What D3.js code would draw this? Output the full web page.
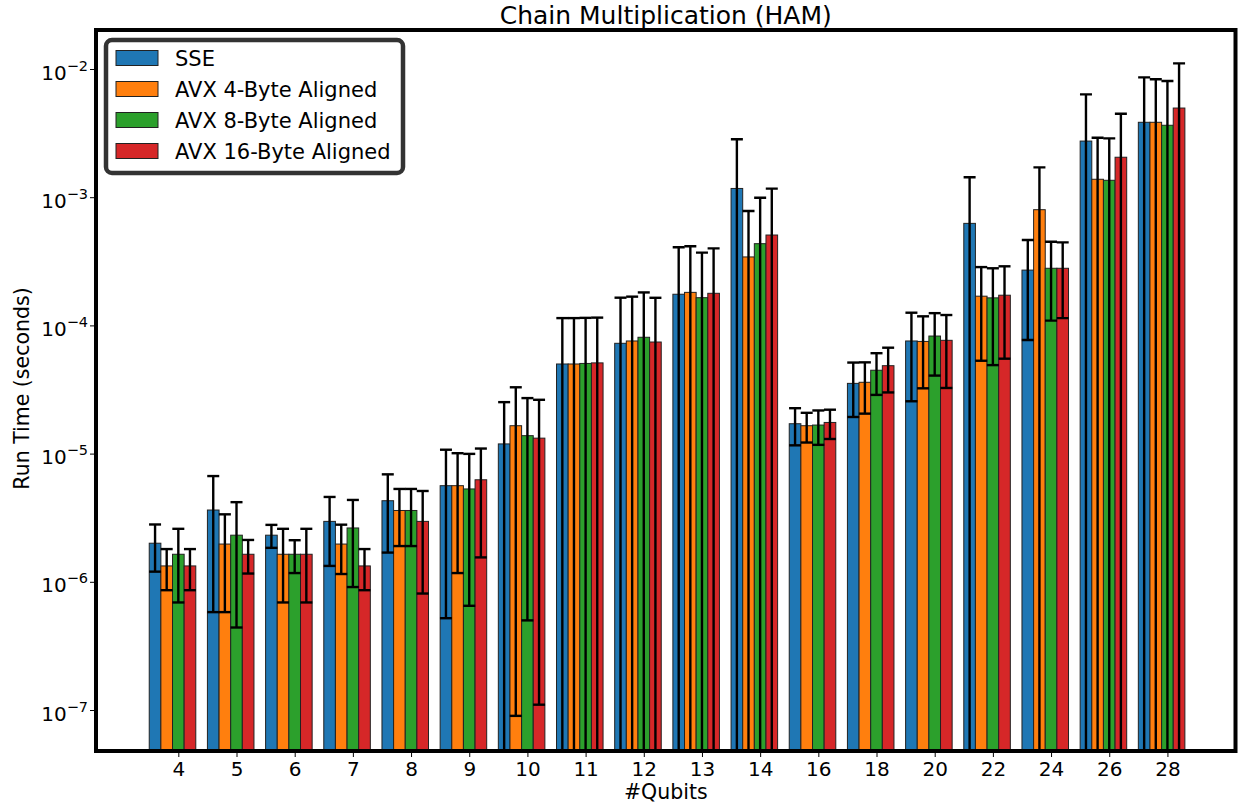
<!DOCTYPE html>
<html>
<head>
<meta charset="utf-8">
<script src="https://cdn.jsdelivr.net/npm/d3@7"></script>
<style>
body{margin:0;background:#fff}
text{font-family:"DejaVu Sans",sans-serif;fill:#000}
</style>
</head>
<body>
<div id="chart"></div>
<script>
// categories
let qubits=["4","5","6","7","8","9","10","11","12","13","14","16","18","20","22","24","26","28"]

// mean run time (seconds) and std per series
let sseMean=[2.0e-6,3.63e-6,2.31e-6,2.96e-6,4.29e-6,5.62e-6,1.19e-5,5.0e-5,7.25e-5,1.75e-4,1.17e-3,1.71e-5,3.53e-5,7.56e-5,6.25e-4,2.70e-4,2.74e-3,3.84e-3]
let sseStd=[0.8e-6,3.05e-6,0.47e-6,1.63e-6,2.6e-6,5.1e-6,1.33e-5,6.4e-5,9.2e-5,2.32e-4,1.66e-3,5.5e-6,1.6e-5,5.0e-5,8.05e-4,1.93e-4,3.6e-3,4.77e-3]
let avx4Mean=[1.33e-6,1.97e-6,1.64e-6,1.97e-6,3.6e-6,5.62e-6,1.65e-5,5.0e-5,7.56e-5,1.81e-4,3.42e-4,1.65e-5,3.6e-5,7.5e-5,1.69e-4,7.99e-4,1.38e-3,3.84e-3]
let avx4Std=[0.47e-6,1.39e-6,0.95e-6,0.82e-6,1.7e-6,4.45e-6,1.641e-5,6.4e-5,9.2e-5,2.33e-4,4.38e-4,4.3e-6,1.55e-5,4.27e-5,1.16e-4,9.1e-4,1.53e-3,4.47e-3]
let avx8Mean=[1.64e-6,2.31e-6,1.64e-6,2.63e-6,3.6e-6,5.3e-6,1.38e-5,5.05e-5,8.08e-5,1.645e-4,4.34e-4,1.67e-5,4.47e-5,8.26e-5,1.64e-4,2.79e-4,1.355e-3,3.64e-3]
let avx8Std=[0.95e-6,1.87e-6,0.47e-6,1.72e-6,1.7e-6,4.65e-6,1.33e-5,6.4e-5,1.0e-4,2.05e-4,5.56e-4,5.0e-6,1.6e-5,4.2e-5,1.15e-4,1.7e-4,1.52e-3,4.42e-3]
let avx16Mean=[1.33e-6,1.64e-6,1.64e-6,1.33e-6,2.96e-6,6.25e-6,1.32e-5,5.1e-5,7.42e-5,1.78e-4,5.07e-4,1.75e-5,4.85e-5,7.65e-5,1.72e-4,2.79e-4,2.05e-3,4.96e-3]
let avx16Std=[0.47e-6,0.48e-6,0.95e-6,0.47e-6,2.15e-6,4.7e-6,1.309e-5,6.4e-5,9.0e-5,2.21e-4,6.6e-4,4.5e-6,1.85e-5,4.4e-5,1.17e-4,1.65e-4,2.43e-3,6.1e-3]

let seriesNames=["SSE","AVX 4-Byte Aligned","AVX 8-Byte Aligned","AVX 16-Byte Aligned"]
let colors=["#1f77b4","#ff7f0e","#2ca02c","#d62728"]
let yTicks=[1e-7,1e-6,1e-5,1e-4,1e-3,1e-2]

let series=[
    {name:seriesNames[0],mean:sseMean,std:sseStd},
    {name:seriesNames[1],mean:avx4Mean,std:avx4Std},
    {name:seriesNames[2],mean:avx8Mean,std:avx8Std},
    {name:seriesNames[3],mean:avx16Mean,std:avx16Std}
]

let svgWidth=1238
let svgHeight=805
let plot={left:96,right:1235.5,top:30,bottom:751}
let barW=0.2

let svg=d3.select("#chart")
.append("svg")
.attr("width",svgWidth)
.attr("height",svgHeight)

//Scales
let xScale=d3.scaleLinear()
.domain([-1.415,18.17])
.range([plot.left,plot.right])
let yScale=d3.scaleLog()
.domain([1e-7,1e-2])
.range([710,69])

svg.append("clipPath").attr("id","clip")
.append("rect")
.attr("x",plot.left).attr("y",plot.top)
.attr("width",plot.right-plot.left).attr("height",plot.bottom-plot.top)

let plotGroup=svg.append("g").attr("clip-path","url(#clip)")

//Bars
series.forEach(function(s,k){
    plotGroup.append("g").selectAll("rect")
    .data(qubits)
    .enter()
    .append("rect")
    .attr("x",(d,i)=>xScale(i+(k-2.5)*barW))
    .attr("width",xScale(barW)-xScale(0))
    .attr("y",(d,i)=>yScale(s.mean[i]))
    .attr("height",(d,i)=>plot.bottom+5-yScale(s.mean[i]))
    .attr("fill",colors[k])
    .attr("stroke","#222")
    .attr("stroke-width",1)
})

//Error bars
let capHalf=6
let errW=2.4
series.forEach(function(s,k){
    let g=plotGroup.append("g")
    qubits.forEach(function(q,i){
        let cx=xScale(i+(k-2)*barW)
        let hi=s.mean[i]+s.std[i]
        let lo=s.mean[i]-s.std[i]
        let yHi=yScale(hi)
        let yLo=lo>0?yScale(lo):plot.bottom+5
        g.append("line")
        .attr("x1",cx).attr("x2",cx)
        .attr("y1",yHi).attr("y2",yLo)
        .attr("stroke","#000").attr("stroke-width",errW)
        g.append("line")
        .attr("x1",cx-capHalf).attr("x2",cx+capHalf)
        .attr("y1",yHi).attr("y2",yHi)
        .attr("stroke","#000").attr("stroke-width",errW)
        if(lo>0){
            g.append("line")
            .attr("x1",cx-capHalf).attr("x2",cx+capHalf)
            .attr("y1",yLo).attr("y2",yLo)
            .attr("stroke","#000").attr("stroke-width",errW)
        }
    })
})

//Axes
let leftAxis=d3.axisLeft(yScale)
.tickValues(yTicks)
.tickSize(6)
.tickPadding(6)
.tickFormat("")
let yAxisG=svg.append("g")
.attr("transform",`translate(${plot.left},0)`)
.call(leftAxis)
yAxisG.select(".domain").remove()
yAxisG.selectAll(".tick line").attr("stroke","#000").attr("stroke-width",1)
yAxisG.selectAll(".tick").each(function(d){
    let t=d3.select(this).append("text")
    .attr("x",-8)
    .attr("y",10)
    .attr("text-anchor","end")
    .style("font-size","20px")
    .style("font-family","DejaVu Sans")
    t.append("tspan").text("10")
    t.append("tspan")
    .attr("dy",-9)
    .style("font-size","14.5px")
    .text("\u2212"+Math.round(-Math.log10(d)))
})

let bottomAxis=d3.axisBottom(xScale)
.tickValues(d3.range(qubits.length))
.tickSize(6)
.tickPadding(5)
.tickFormat(i=>qubits[i])
let xAxisG=svg.append("g")
.attr("transform",`translate(0,${plot.bottom})`)
.call(bottomAxis)
xAxisG.select(".domain").remove()
xAxisG.selectAll(".tick line").attr("stroke","#000").attr("stroke-width",1)
xAxisG.selectAll(".tick text")
.attr("fill","#000")
.style("font-size","20px")
.style("font-family","DejaVu Sans")

//Spines
svg.append("rect")
.attr("x",plot.left).attr("y",plot.top)
.attr("width",plot.right-plot.left).attr("height",plot.bottom-plot.top)
.attr("fill","none")
.attr("stroke","#000")
.attr("stroke-width",4)

//Title and axis labels
svg.append("text")
.attr("x",(plot.left+plot.right)/2)
.attr("y",24)
.attr("text-anchor","middle")
.style("font-size","25px")
.text("Chain Multiplication (HAM)")
svg.append("text")
.attr("transform",`translate(29,${(plot.top+plot.bottom)/2-2}) rotate(-90)`)
.attr("text-anchor","middle")
.style("font-size","20.5px")
.text("Run Time (seconds)")
svg.append("text")
.attr("x",(plot.left+plot.right)/2)
.attr("y",799)
.attr("text-anchor","middle")
.style("font-size","20.5px")
.text("#Qubits")

//Legend
let legend=svg.append("g")
legend.append("rect")
.attr("x",106).attr("y",40)
.attr("width",297).attr("height",133)
.attr("rx",6)
.attr("fill","#fff")
.attr("stroke","#333")
.attr("stroke-width",4.5)
seriesNames.forEach(function(name,k){
    let row=legend.append("g").attr("transform",`translate(116,${58+k*31})`)
    row.append("rect")
    .attr("x",0).attr("y",-7.5)
    .attr("width",42).attr("height",15)
    .attr("fill",colors[k])
    .attr("stroke","#222")
    .attr("stroke-width",1)
    row.append("text")
    .attr("x",59)
    .attr("y",8)
    .style("font-size","21px")
    .text(name)
})
</script>
</body>
</html>
